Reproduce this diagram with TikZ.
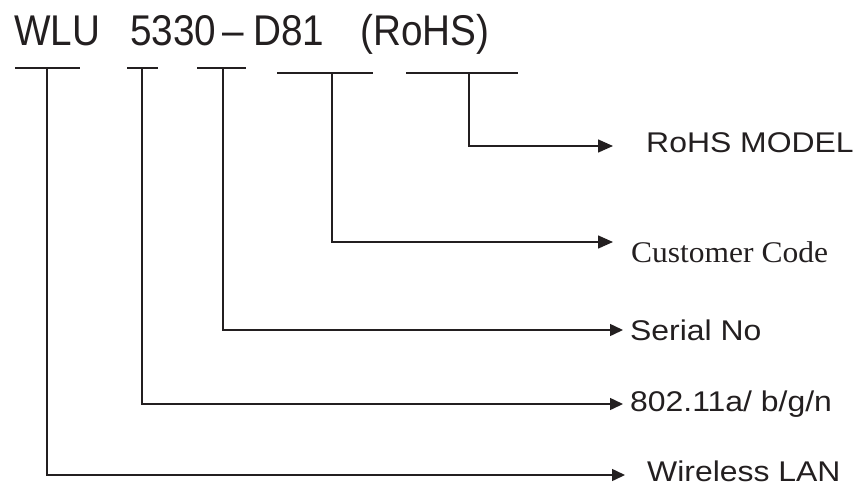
\documentclass[tikz,border=0pt]{standalone}
\usepackage{fontspec}
\setmainfont{Liberation Sans}
\newfontfamily\titlefont[FakeStretch=0.9]{Liberation Sans}
\newfontfamily\labelfont[FakeStretch=1.12]{Liberation Sans}
\newfontfamily\codefont[FakeStretch=1.05]{Liberation Serif}
\usetikzlibrary{positioning,arrows.meta}
\definecolor{ink}{RGB}{35,31,32}

\begin{document}
\begin{tikzpicture}[x=1pt, y=-1pt,
    part/.style={anchor=base west, inner sep=0pt, text=ink, font=\titlefont\fontsize{43}{43}\selectfont},
    bar/.style={line width=1.5pt, draw=ink},
    lead/.style={line width=1.5pt, color=ink, -{Triangle[length=15pt,width=13pt]}},
    leadsmall/.style={line width=1.5pt, color=ink, -{Triangle[length=13pt,width=12pt]}},
    descr/.style={inner sep=0pt, text=ink, font=\labelfont\fontsize{28.5}{28.5}\selectfont}]
        \useasboundingbox (0,0) rectangle (857,488);

        % Model number, one node for each part
        \node[part] (wlu) at (14,45) {WLU};
        \node[part] (serial) at (130,45) {5330};
        \node[part] (dash) at (222,45) {–};
        \node[part] (cust) at (253,45) {D81};
        \node[part] (rohs) at (360,45) {(RoHS)};

        % Define the bars under the parts
        \coordinate (wlu-l) at (15,68);   \coordinate (wlu-m) at (47,68);   \coordinate (wlu-r) at (80,68);
        \coordinate (band-l) at (127,68); \coordinate (band-m) at (142,68); \coordinate (band-r) at (158,68);
        \coordinate (ser-l) at (197,68);  \coordinate (ser-m) at (223,68);  \coordinate (ser-r) at (246,68);
        \coordinate (cc-l) at (277,73);   \coordinate (cc-m) at (332,73);   \coordinate (cc-r) at (373,73);
        \coordinate (rm-l) at (406,73);   \coordinate (rm-m) at (469,73);   \coordinate (rm-r) at (518,73);

        \draw[bar] (wlu-l) -- (wlu-r);
        \draw[bar] (band-l) -- (band-r);
        \draw[bar] (ser-l) -- (ser-r);
        \draw[bar] (cc-l) -- (cc-r);
        \draw[bar] (rm-l) -- (rm-r);

        % Define the arrow tips
        \coordinate (rm-tip) at (613,146);
        \coordinate (cc-tip) at (613,242);
        \coordinate (ser-tip) at (623,330);
        \coordinate (band-tip) at (623,404);
        \coordinate (wlu-tip) at (625,475);

        % Draw the leads from the bars
        \draw[lead] (rm-m) |- (rm-tip);
        \draw[lead] (cc-m) |- (cc-tip);
        \draw[leadsmall] (ser-m) |- (ser-tip);
        \draw[leadsmall] (band-m) |- (band-tip);
        \draw[leadsmall] (wlu-m) |- (wlu-tip);

        % Labels for the parts
        \node[descr, right=33pt of rm-tip, yshift=3pt] (rm-text) {RoHS MODEL};
        \node[descr, right=18pt of cc-tip, yshift=-10pt, font=\codefont\fontsize{30}{30}\selectfont] (cc-text) {Customer Code};
        \node[descr, right=7pt of ser-tip] (ser-text) {Serial No};
        \node[descr, right=7pt of band-tip] (band-text) {802.11a/ b/g/n};
        \node[descr, right=22pt of wlu-tip, yshift=4pt] (wlu-text) {Wireless LAN};
    \end{tikzpicture}
\end{document}
